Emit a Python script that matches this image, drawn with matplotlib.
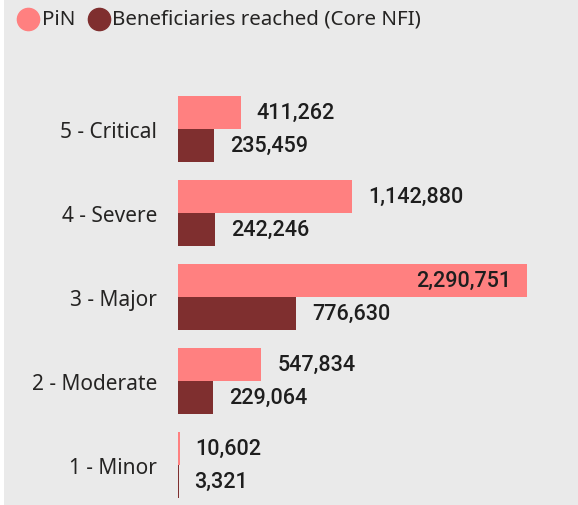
import matplotlib.pyplot as plt
from matplotlib.lines import Line2D
from matplotlib.patches import Rectangle

categories = ["1 - Minor", "2 - Moderate", "3 - Major", "4 - Severe", "5 - Critical"]
pin = [10602, 547834, 2290751, 1142880, 411262]
reached = [3321, 229064, 776630, 242246, 235459]
series_names = ["PiN", "Beneficiaries reached (Core NFI)"]
colors = ["#FF8080", "#7F2F2F"]

W, H = 578, 506
fig = plt.figure(figsize=(W / 100, H / 100), dpi=100)
fig.patch.set_facecolor("#EAEAEA")
fig.patches.append(Rectangle((0, 0), 4 / W, 1, transform=fig.transFigure,
                             facecolor="white", edgecolor="none"))

ax = fig.add_axes([178 / W, 0, 1 - 178 / W, 1 - 88 / H])
ax.set_facecolor("none")

bh = 33 / 84
ys = list(range(len(categories)))
b1 = ax.barh([y + bh / 2 for y in ys], pin, height=bh, color=colors[0])
b2 = ax.barh([y - bh / 2 for y in ys], reached, height=bh, color=colors[1])

xmax = max(pin) * 400 / 349
ax.set_xlim(0, xmax)
ax.set_ylim(-40 / 84, len(categories) - 0.5)

lab_font = dict(family="Roboto", size=15.5, weight="medium", color="#1E1E1E")
for bars, vals in ((b1, pin), (b2, reached)):
    for bar, v in zip(bars, vals):
        yc = bar.get_y() + bar.get_height() / 2
        txt = f"{v:,}"
        if v > 0.8 * max(pin):
            ax.annotate(txt, (v, yc), xytext=(-16, 0), textcoords="offset pixels",
                        ha="right", va="center", **lab_font)
        else:
            ax.annotate(txt, (v, yc), xytext=(16, 0), textcoords="offset pixels",
                        ha="left", va="center", **lab_font)

ax.set_yticks(ys)
ax.set_yticklabels(categories, family="Noto Sans", size=15, color="#252423")
ax.tick_params(axis="y", length=0, pad=15)
ax.set_xticks([])
for s in ax.spines.values():
    s.set_visible(False)

# legend
ly = 1 - 20 / H
fig.add_artist(Line2D([28 / W], [ly], marker="o", markersize=16,
                      color=colors[0], transform=fig.transFigure))
fig.text(42 / W, ly, series_names[0], ha="left", va="center",
         family="Noto Sans", size=14.8, color="#252423")
fig.add_artist(Line2D([99 / W], [ly], marker="o", markersize=16,
                      color=colors[1], transform=fig.transFigure))
fig.text(112 / W, ly, series_names[1], ha="left", va="center",
         family="Noto Sans", size=14.8, color="#252423")

fig.savefig("out.png", dpi=100, facecolor=fig.get_facecolor())
